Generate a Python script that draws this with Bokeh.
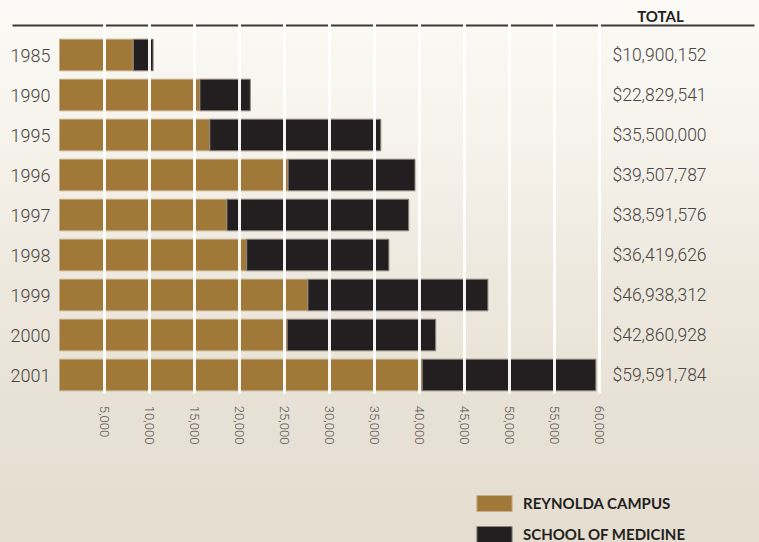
from bokeh.plotting import figure
from bokeh.models import (ColumnDataSource, Range1d, FixedTicker,
                          LinearAxis, Grid, Legend, LegendItem)
from bokeh.core.properties import value
from bokeh.embed import file_html
from bokeh.resources import INLINE

# ---- data (thousands of dollars) ----
years = ["1985", "1990", "1995", "1996", "1997", "1998", "1999", "2000", "2001"]
campus = [8200, 15600, 16700, 25400, 18600, 20800, 27600, 25300, 40300]
medicine = [2200, 5600, 19000, 14100, 20200, 15800, 20000, 16500, 19300]
totals = [10900152, 22829541, 35500000, 39507787, 38591576, 36419626,
          46938312, 42860928, 59591784]
ticks = [5000, 10000, 15000, 20000, 25000, 30000, 35000, 40000,
         45000, 50000, 55000, 60000]
series = ["REYNOLDA CAMPUS", "SCHOOL OF MEDICINE"]
header = "TOTAL"

GOLD = "#a07838"
BLACK = "#231f20"
LIGHT = "Roboto Light, Roboto"

rows = list(range(len(years)))
src = ColumnDataSource(dict(
    row=rows,
    campus=campus,
    end=[c + m for c, m in zip(campus, medicine)],
    total=[f"${t:,}" for t in totals],
))

p = figure(width=759, height=542, output_backend="svg", toolbar_location=None,
           x_range=Range1d(-6556, 77778), y_range=Range1d(12.1875, -1.3625),
           min_border=0, x_axis_location=None, y_axis_location=None)
p.grid.visible = False
p.outline_line_color = None
p.background_fill_alpha = 0
p.border_fill_alpha = 0
p.styles = {"background": "linear-gradient(180deg, #fbfaf6 0%, #f6f3ec 25%, "
                          "#eee9df 50%, #e8e1d5 75%, #e5ddd0 100%)"}

# top rule
p.segment(x0=-5222, y0=-0.7375, x1=77222, y1=-0.7375,
          line_color="#3c3a38", line_width=2)

# bars
r1 = p.hbar(y="row", left=0, right="campus", height=0.79, source=src,
            fill_color=GOLD, line_color="#c4ad8a", line_width=1)
r2 = p.hbar(y="row", left="campus", right="end", height=0.79, source=src,
            fill_color=BLACK, line_color="#8d857c", line_width=1)

# white grid lines over the bars
grid = Grid(dimension=0, ticker=FixedTicker(ticks=ticks), grid_line_color="white",
            grid_line_width=3, grid_line_alpha=0.95, level="annotation",
            cross_bounds=(-0.79, 8.45))
p.add_layout(grid)

# x axis (rotated labels)
xaxis = LinearAxis(ticker=FixedTicker(ticks=ticks),
                   major_label_overrides={t: f"{t:,}" for t in ticks},
                   fixed_location=8.47,
                   major_label_orientation="vertical",
                   axis_line_color=None, major_tick_line_color=None,
                   minor_tick_line_color=None, major_label_standoff=6,
                   major_label_text_font=LIGHT,
                   major_label_text_font_size="13px",
                   major_label_text_color="#555050")
p.add_layout(xaxis, "below")

# y axis (years)
yaxis = LinearAxis(ticker=FixedTicker(ticks=rows),
                   major_label_overrides={i: y for i, y in enumerate(years)},
                   fixed_location=0,
                   axis_line_color=None, major_tick_line_color=None,
                   minor_tick_line_color=None, major_label_standoff=3,
                   major_label_text_font=LIGHT,
                   major_label_text_font_size="18px",
                   major_label_text_color="#4a4545")
p.add_layout(yaxis, "left")

# totals column
p.text(x=61444, y="row", text="total", source=src,
       text_font=value(LIGHT), text_font_size="17.5px",
       text_baseline="middle", text_align="left", text_color="#4a4545")
p.text(x=[66778], y=[-0.975], text=[header], text_font=value("Lato"),
       text_font_style="bold", text_font_size="15px", text_baseline="middle",
       text_align="center", text_color="#231f20")

legend = Legend(items=[LegendItem(label=series[0], renderers=[r1]),
                       LegendItem(label=series[1], renderers=[r2])],
                location=(472, -2), glyph_width=44, glyph_height=20,
                spacing=11, padding=0, margin=0, label_standoff=7,
                border_line_color=None, background_fill_alpha=0,
                label_text_font="Lato", label_text_font_style="bold",
                label_text_font_size="15px", label_text_color="#231f20")
p.add_layout(legend)

open("out.html", "w").write(file_html(p, INLINE))
